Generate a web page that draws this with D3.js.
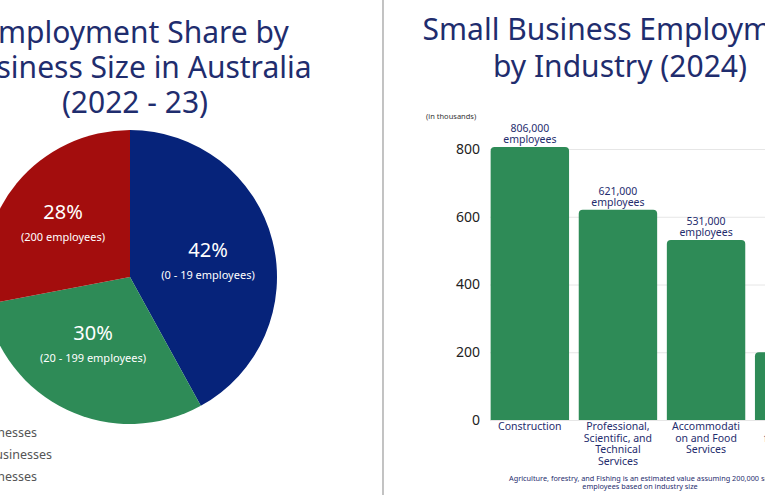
<!DOCTYPE html>
<html>
<head>
<meta charset="utf-8">
<script src="https://cdn.jsdelivr.net/npm/d3@7"></script>
<style>
  body { margin: 0; background: #fff; }
  svg { font-family: "Noto Sans", "Open Sans", sans-serif; display: block; }
</style>
</head>
<body>
<svg id="chart" width="765" height="495"></svg>
<script>
const shareLabels = ["42%", "30%", "28%"];
const shareValues = [42, 30, 28];
const shareNotes = ["(0 - 19 employees)", "(20 - 199 employees)", "(200 employees)"];
const shareColors = ["#06237a", "#2e8b57", "#a30d0d"];
const legendNames = ["Small Businesses", "Medium Businesses", "Large Businesses"];

const industries = [
  ["Construction"],
  ["Professional,", "Scientific, and", "Technical", "Services"],
  ["Accommodati", "on and Food", "Services"],
  ["Agriculture,", "forestry and", "Fishing"]
];
const employees = [806, 621, 531, 200];
const valueLabels = ["806,000", "621,000", "531,000", "780,000"];
const yTicks = [0, 200, 400, 600, 800];

const navy = "#1f2d6e";
const svg = d3.select("#chart");

// divider
svg.append("line").attr("x1", 383).attr("x2", 383).attr("y1", 0).attr("y2", 495)
  .attr("stroke", "#9a9a9a").attr("stroke-width", 1.2);

// left title
const lt = svg.append("text").attr("text-anchor", "middle").attr("fill", navy)
  .attr("font-size", 30);
["Employment Share by", "Business Size in Australia", "(2022 - 23)"].forEach((t, i) => {
  lt.append("tspan").attr("x", 135).attr("y", 43 + i * 35).text(t);
});

// pie
const pie = d3.pie().sort(null).value(d => d);
const arc = d3.arc().innerRadius(0).outerRadius(147);
const pg = svg.append("g").attr("transform", "translate(130,277)");
const arcs = pie(shareValues);
pg.selectAll("path").data(arcs).join("path")
  .attr("d", arc).attr("fill", (d, i) => shareColors[i]);
const labelPos = [[78, -20], [-37, 63], [-67, -58]];
arcs.forEach((a, i) => {
  const g = pg.append("g").attr("transform", `translate(${labelPos[i][0]},${labelPos[i][1]})`);
  g.append("text").attr("text-anchor", "middle").attr("fill", "#fff")
    .attr("font-size", 20).text(shareLabels[i]);
  g.append("text").attr("text-anchor", "middle").attr("y", 22).attr("fill", "#fff")
    .attr("font-size", 11).text(shareNotes[i]);
});

// legend (clipped at left edge)
legendNames.forEach((n, i) => {
  svg.append("text").attr("x", [37, 52, 37][i]).attr("y", 437 + i * 22)
    .attr("text-anchor", "end").attr("fill", "#555").attr("font-size", 12.5).text(n);
});

// right title
const rt = svg.append("text").attr("text-anchor", "middle").attr("fill", navy)
  .attr("font-size", 30);
["Small Business Employment", "by Industry (2024)"].forEach((t, i) => {
  rt.append("tspan").attr("x", 620).attr("y", 40 + i * 37).text(t);
});

// bar chart
const y = d3.scaleLinear().domain([0, 800]).range([420, 149]);
const x = d3.scaleBand().domain(d3.range(industries.length)).range([488, 836]).paddingInner(0.11).paddingOuter(0.03);

svg.append("text").attr("x", 426).attr("y", 119).attr("fill", "#333").attr("font-size", 7.5)
  .text("(in thousands)");

const yAxis = svg.append("g").attr("transform", "translate(490,0)")
  .call(d3.axisLeft(y).tickValues(yTicks).tickSize(-400).tickPadding(10));
yAxis.select(".domain").remove();
yAxis.selectAll(".tick line").attr("stroke", "#e6e6e6");
yAxis.selectAll(".tick text").attr("fill", "#222").attr("font-size", 14)
  .attr("font-family", "Noto Sans, sans-serif");

const r = 4;
svg.append("g").selectAll("path").data(employees).join("path")
  .attr("fill", "#2e8b57")
  .attr("d", (d, i) => {
    const x0 = x(i), x1 = x(i) + x.bandwidth(), y0 = y(d), yb = y(0);
    return `M${x0},${yb}V${y0 + r}Q${x0},${y0} ${x0 + r},${y0}H${x1 - r}Q${x1},${y0} ${x1},${y0 + r}V${yb}Z`;
  });

employees.forEach((d, i) => {
  const cx = x(i) + x.bandwidth() / 2;
  const t = svg.append("text").attr("text-anchor", "middle").attr("fill", navy).attr("font-size", 10.5);
  t.append("tspan").attr("x", cx).attr("y", y(d) - 15).text(valueLabels[i]);
  t.append("tspan").attr("x", cx).attr("y", y(d) - 4).text("employees");
  const c = svg.append("text").attr("text-anchor", "middle").attr("fill", navy).attr("font-size", 10.5);
  industries[i].forEach((line, j) => {
    c.append("tspan").attr("x", cx).attr("y", 430 + j * 11.5).text(line);
  });
});

const fn = svg.append("text").attr("text-anchor", "middle").attr("fill", navy).attr("font-size", 7.3);
fn.append("tspan").attr("x", 660).attr("y", 481)
  .text("Agriculture, forestry, and Fishing is an estimated value assuming 200,000 small business");
fn.append("tspan").attr("x", 640).attr("y", 489).text("employees based on industry size");
</script>
</body>
</html>
